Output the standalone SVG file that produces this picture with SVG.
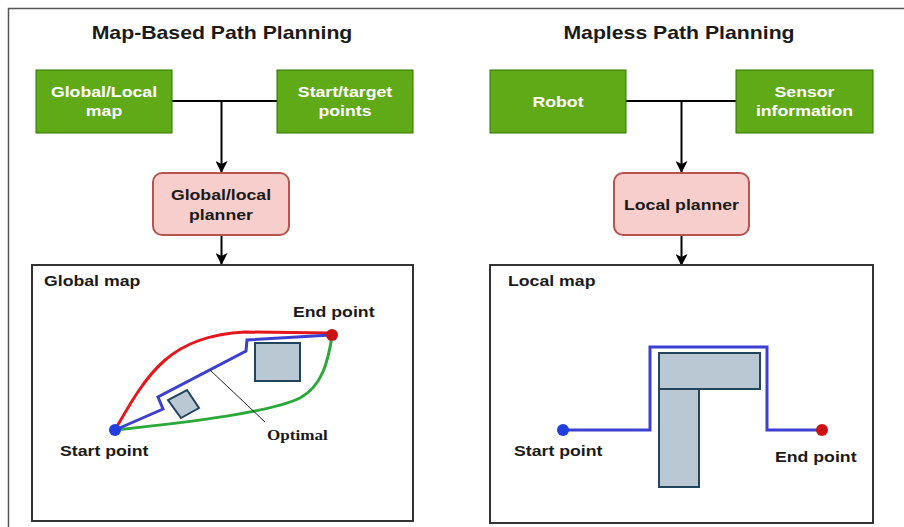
<svg xmlns="http://www.w3.org/2000/svg" width="904" height="527" viewBox="0 0 904 527">
<style>
text{font-family:"Liberation Sans",Arial,sans-serif;font-weight:bold}
.title{font-size:18px;fill:#1a1a1a;text-anchor:middle}
.gtxt{font-size:15px;fill:#ffffff;text-anchor:middle}
.ptxt{font-size:15px;fill:#1a1a1a;text-anchor:middle}
.lbl{font-size:15px;fill:#1a1a1a}
.green{fill:#60a917;stroke:#2d7600;stroke-width:1}
.pink{fill:#f8cecc;stroke:#b85450;stroke-width:2}
.map{fill:#ffffff;stroke:#333333;stroke-width:2}
.conn{fill:none;stroke:#000000;stroke-width:2}
.obs{fill:#bac8d3;stroke:#23445d;stroke-width:2}
.blue{fill:none;stroke:#3d3fd0;stroke-width:3;stroke-linejoin:miter}
.red{fill:none;stroke:#e3171c;stroke-width:3}
.grn{fill:none;stroke:#2aa83a;stroke-width:3}
</style>
<defs>
<marker id="arr" viewBox="0 0 12 12" refX="11" refY="6" markerWidth="12" markerHeight="12" markerUnits="userSpaceOnUse" orient="auto">
<path d="M0,0 L12,6 L0,12 L3,6 Z" fill="#000000"/>
</marker>
</defs>
<rect width="904" height="527" fill="#ffffff"/>
<path d="M8.5,527 L8.5,8.5 L904,8.5" fill="none" stroke="#555555" stroke-width="1.5"/>

<g id="titles">
<text class="title" transform="translate(222,39) scale(1.18,1)">Map-Based Path Planning</text>
<text class="title" transform="translate(679,39) scale(1.18,1)">Mapless Path Planning</text>
</g>

<g id="connectors">
<path class="conn" d="M172,101 L277,101"/>
<path class="conn" d="M221.5,101 L221.5,172" marker-end="url(#arr)"/>
<path class="conn" d="M221.5,235 L221.5,264" marker-end="url(#arr)"/>
<path class="conn" d="M626,101 L736,101"/>
<path class="conn" d="M681.5,101 L681.5,172" marker-end="url(#arr)"/>
<path class="conn" d="M681.5,235 L681.5,265" marker-end="url(#arr)"/>
</g>

<g id="global-local-map">
<rect class="green" x="36" y="70" width="136" height="63"/>
<text class="gtxt" transform="translate(104,97) scale(1.18,1)"><tspan x="0" y="0">Global/Local</tspan><tspan x="0" y="19">map</tspan></text>
</g>
<g id="start-target-points">
<rect class="green" x="277" y="70" width="136" height="63"/>
<text class="gtxt" transform="translate(345,97) scale(1.18,1)"><tspan x="0" y="0">Start/target</tspan><tspan x="0" y="19">points</tspan></text>
</g>
<g id="global-local-planner">
<rect class="pink" x="153" y="173" width="136" height="62" rx="9"/>
<text class="ptxt" transform="translate(221,200) scale(1.18,1)"><tspan x="0" y="0">Global/local</tspan><tspan x="0" y="20">planner</tspan></text>
</g>

<g id="robot">
<rect class="green" x="490" y="70" width="136" height="63"/>
<text class="gtxt" transform="translate(558,107) scale(1.18,1)">Robot</text>
</g>
<g id="sensor-information">
<rect class="green" x="736" y="70" width="137" height="63"/>
<text class="gtxt" transform="translate(804.5,97) scale(1.18,1)"><tspan x="0" y="0">Sensor</tspan><tspan x="0" y="19">information</tspan></text>
</g>
<g id="local-planner">
<rect class="pink" x="614" y="173" width="135" height="62" rx="9"/>
<text class="ptxt" transform="translate(681.5,209.5) scale(1.18,1)">Local planner</text>
</g>

<g id="global-map">
<rect class="map" x="32" y="265" width="381" height="256"/>
<text class="lbl" transform="translate(44,286) scale(1.18,1)">Global map</text>
<rect class="obs" x="255" y="343" width="45" height="38"/>
<polygon class="obs" points="187,390 199,408 181,418 168,400"/>
<path class="red" d="M115,430 C148,372 170,336 245,332 L330,333"/>
<path class="grn" d="M115,430 C200,421 270,412 300,398 C322,386 328,362 332,336"/>
<path class="blue" d="M115,430 L163,409 L158,397 L246,351 L247,340 L331,335"/>
<line x1="210" y1="370" x2="265" y2="422" stroke="#222222" stroke-width="1"/>
<circle cx="115" cy="430" r="6" fill="#1f3fe0"/>
<circle cx="332" cy="335" r="6" fill="#cc1111"/>
<text class="lbl" transform="translate(60,456) scale(1.18,1)">Start point</text>
<text class="lbl" transform="translate(293,317) scale(1.18,1)">End point</text>
<text transform="translate(267,440) scale(1.18,1)" style="font-family:'Liberation Serif','Times New Roman',serif;font-weight:bold;font-size:14.5px;fill:#1a1a1a">Optimal</text>
</g>

<g id="local-map">
<rect class="map" x="490" y="265" width="383" height="258"/>
<text class="lbl" transform="translate(508,286) scale(1.18,1)">Local map</text>
<rect class="obs" x="659" y="389" width="40" height="98"/>
<rect class="obs" x="659" y="353" width="101" height="36"/>
<path class="blue" d="M563,430 L650,430 L650,347 L767,347 L767,430 L822,430"/>
<circle cx="563" cy="430" r="6" fill="#1f3fe0"/>
<circle cx="822" cy="430" r="6" fill="#cc1111"/>
<text class="lbl" transform="translate(514,456) scale(1.18,1)">Start point</text>
<text class="lbl" transform="translate(775,462) scale(1.18,1)">End point</text>
</g>
</svg>
